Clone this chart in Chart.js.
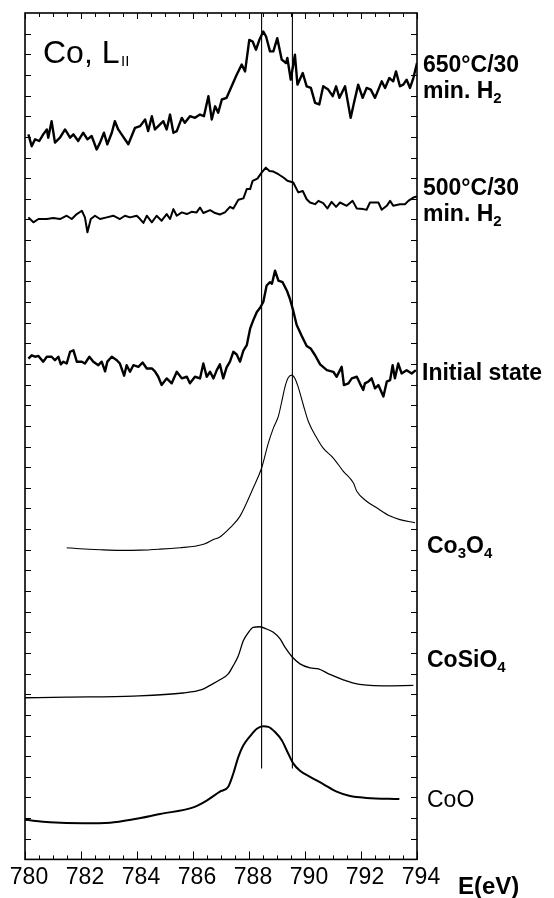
<!DOCTYPE html>
<html><head><meta charset="utf-8">
<script src="https://cdn.jsdelivr.net/npm/chart.js@4/dist/chart.umd.min.js"></script>
<style>html,body{margin:0;padding:0;background:#fff;}canvas{display:block;}</style>
</head><body>
<canvas id="c" width="554" height="898"></canvas>
<script>
// ---------- DATA (energy in eV, intensity in arbitrary offset units) ----------
const xTickLabels = ['780','782','784','786','788','790','792','794'];

const e650 = [780.12,780.24,780.36,780.51,780.65,780.78,780.83,780.95,781.07,781.25,
781.43,781.61,781.73,781.90,782.08,782.23,782.38,782.56,782.68,782.82,
782.94,783.10,783.21,783.33,783.45,783.69,783.81,783.93,784.11,784.29,
784.40,784.53,784.64,784.76,784.94,785.06,785.18,785.30,785.42,785.60,
785.71,785.89,786.07,786.25,786.39,786.55,786.67,786.79,786.90,787.03,
787.20,787.38,787.56,787.74,787.86,788.01,788.13,788.25,788.37,788.51,
788.61,788.75,788.87,789.01,789.17,789.32,789.37,789.49,789.64,789.73,
789.92,790.06,790.21,790.36,790.51,790.65,790.83,790.99,791.11,791.23,
791.43,791.63,791.75,791.90,792.06,792.20,792.35,792.50,792.74,792.86,
793.01,793.15,793.25,793.39,793.51,793.63,793.75,793.87,794.0];
const i650 = [35.12,34.55,34.88,34.80,35.12,35.36,34.96,35.76,34.72,34.96,
35.36,34.96,35.12,34.80,35.20,34.88,35.04,34.39,34.72,35.20,
34.64,35.20,35.76,35.36,35.12,34.64,35.04,35.44,35.52,35.84,
35.28,36.00,35.36,35.52,35.76,35.36,36.08,35.20,35.28,35.92,
35.68,36.00,35.92,36.08,36.00,36.97,35.84,36.48,36.17,36.81,
36.89,37.45,38.01,38.50,38.17,39.70,39.62,39.22,39.70,40.10,
39.86,39.14,39.14,39.78,38.74,38.58,38.82,37.77,38.98,37.53,
38.09,37.45,37.37,36.65,36.57,37.45,37.29,36.97,37.45,36.89,
37.45,35.92,36.65,37.53,36.89,37.37,37.29,36.89,37.69,37.37,
37.85,37.69,38.17,37.45,37.53,37.77,37.37,37.85,38.58];

const e500 = [780.12,780.30,780.48,780.78,781.01,781.25,781.49,781.67,781.85,782.03,
782.14,782.23,782.35,782.50,782.68,782.92,783.15,783.39,783.57,783.75,
783.99,784.11,784.23,784.35,784.53,784.70,784.88,785.06,785.18,785.30,
785.42,785.60,785.78,785.95,786.13,786.25,786.37,786.61,786.79,786.96,
787.14,787.32,787.44,787.62,787.80,787.92,788.04,788.13,788.30,788.45,
788.60,788.73,788.87,789.05,789.23,789.37,789.58,789.76,789.92,790.06,
790.18,790.36,790.48,790.65,790.80,790.95,791.11,791.25,791.49,791.70,
791.85,792.08,792.20,792.32,792.62,792.74,792.92,793.04,793.15,793.39,
793.57,793.69,793.87,794.0];
const i500 = [31.10,30.86,31.02,31.02,31.07,31.02,31.18,31.02,31.26,31.42,
31.10,30.38,31.02,31.18,31.02,31.10,31.18,31.02,31.18,31.10,
31.18,31.02,30.83,31.18,30.86,31.18,30.94,31.26,31.02,31.50,
31.18,31.34,31.26,31.37,31.34,31.58,31.31,31.45,31.31,31.24,
31.34,31.61,31.53,31.95,32.02,32.47,32.47,32.87,32.98,33.27,
33.51,33.35,33.32,33.19,33.03,32.87,32.79,32.31,32.38,31.98,
31.82,31.74,31.90,31.79,31.53,31.85,31.61,31.82,31.66,31.90,
31.53,31.50,31.47,31.82,31.82,31.47,31.66,31.90,31.66,31.74,
31.74,31.90,32.06,32.11];

const eInit = [780.12,780.24,780.36,780.48,780.65,780.78,780.95,781.07,781.19,781.28,
781.37,781.49,781.61,781.73,781.85,782.03,782.14,782.30,782.44,782.62,
782.74,782.86,782.94,783.10,783.28,783.39,783.54,783.63,783.75,783.87,
784.05,784.20,784.35,784.53,784.64,784.76,784.88,785.06,785.24,785.42,
785.60,785.78,785.89,786.07,786.25,786.37,786.49,786.61,786.73,786.85,
786.96,787.08,787.20,787.32,787.44,787.56,787.68,787.80,787.92,788.04,
788.15,788.28,788.39,788.51,788.63,788.75,788.82,788.93,789.05,789.20,
789.35,789.46,789.58,789.70,789.88,790.06,790.20,790.36,790.54,790.78,
791.01,791.13,791.31,791.39,791.55,791.67,791.85,791.96,792.08,792.14,
792.26,792.38,792.50,792.62,792.80,792.92,793.04,793.13,793.21,793.33,
793.45,793.63,793.81,793.96];
const iInit = [24.26,24.42,24.35,24.39,24.11,24.35,24.35,24.18,24.35,23.98,
24.11,24.02,24.59,24.66,24.11,24.11,24.02,24.35,24.11,23.94,
24.11,23.64,24.11,24.35,24.18,24.02,23.43,23.94,23.62,23.94,
23.86,24.07,23.78,23.78,23.64,23.38,22.98,23.30,23.06,23.62,
23.30,23.38,23.06,23.38,23.30,24.02,23.38,23.62,23.30,23.70,
23.98,23.30,23.83,24.11,24.59,24.46,24.11,24.65,24.91,25.71,
26.11,26.52,26.71,27.00,27.80,27.96,27.88,28.52,28.04,27.96,
27.56,27.16,26.58,25.90,25.37,24.87,24.75,24.42,23.98,23.70,
23.62,23.38,23.86,22.98,23.06,23.30,23.38,23.06,22.74,23.06,
23.14,23.30,22.82,22.98,22.42,23.14,23.22,23.94,23.30,24.02,
23.54,23.70,23.54,23.70];

const eCo3O4 = [781.49,781.96,782.68,783.39,784.11,784.82,785.54,786.07,786.43,786.71,
786.96,787.32,787.68,788.15,788.45,788.68,788.87,789.05,789.18,789.29,
789.40,789.53,789.64,789.75,789.94,790.12,790.42,790.65,791.01,791.37,
791.73,791.85,792.20,792.56,793.04,793.39,793.93];
const iCo3O4 = [15.10,15.05,15.00,14.97,14.98,15.03,15.10,15.17,15.29,15.48,
15.62,16.06,16.63,17.99,18.96,20.12,20.89,21.47,22.24,22.91,
23.33,23.46,23.30,22.91,22.01,21.21,20.41,19.92,19.44,18.80,
18.23,17.83,17.35,17.03,16.63,16.46,16.31];

const eCoSiO4 = [780.00,781.49,783.87,785.65,786.31,786.61,786.96,787.26,787.44,787.62,
787.80,787.98,788.15,788.39,788.63,788.87,789.11,789.29,789.53,789.82,
790.18,790.48,790.89,791.37,791.73,792.20,792.80,793.87];
const iCoSiO4 = [7.83,7.86,7.91,8.06,8.22,8.43,8.70,8.99,9.39,9.87,
10.60,11.00,11.24,11.27,11.16,11.00,10.68,10.27,9.83,9.47,
9.28,9.23,8.96,8.70,8.54,8.44,8.41,8.43];

const eCoO = [780.00,780.89,782.08,783.04,783.87,784.82,786.01,786.49,786.96,787.26,
787.44,787.62,787.80,788.04,788.28,788.51,788.69,788.93,789.17,789.40,
789.58,789.82,790.18,790.65,791.13,791.61,792.20,793.37];
const iCoO = [1.92,1.80,1.75,1.78,1.94,2.20,2.52,2.85,3.28,3.52,
4.16,4.97,5.53,5.97,6.33,6.45,6.42,6.17,5.77,5.13,
4.65,4.29,4.00,3.65,3.28,3.07,2.98,2.93];

const refLineEnergies = [788.45, 789.55];
const refLineSpan = [4.4, 41];

const seriesLabels = ['650°C/30 min. H₂', '500°C/30 min. H₂', 'Initial state', 'Co₃O₄', 'CoSiO₄', 'CoO'];

// ---------- CHART ----------
const FONT = '"Liberation Sans", Arial, Helvetica, sans-serif';
const zip = (xs, ys) => xs.slice(0, Math.min(xs.length, ys.length)).map((x, i) => ({x: x, y: ys[i]}));
const line = (label, data, w, smooth) => ({label, data, borderColor: '#000', backgroundColor: '#000',
  borderWidth: w, pointRadius: 0, fill: false, borderJoinStyle: 'round',
  tension: smooth ? 0.4 : 0, cubicInterpolationMode: smooth ? 'monotone' : 'default'});

const datasets = [
  line(seriesLabels[0], zip(e650, i650), 2.4, false),
  line(seriesLabels[1], zip(e500, i500), 2.0, false),
  line(seriesLabels[2], zip(eInit, iInit), 2.4, false),
  line(seriesLabels[3], zip(eCo3O4, iCo3O4), 1.1, true),
  line(seriesLabels[4], zip(eCoSiO4, iCoSiO4), 1.3, true),
  line(seriesLabels[5], zip(eCoO, iCoO), 2.0, true),
];
refLineEnergies.forEach((e, k) => datasets.push(line('ref' + k, [{x: e, y: refLineSpan[0]}, {x: e, y: refLineSpan[1]}], 1.1, false)));

function rich(ctx, x, y, parts, size, bold) {
  let cx = x;
  parts.forEach(p => {
    const sub = p[1];
    const s = sub ? Math.round(size * 0.66) : size;
    ctx.font = (bold ? 'bold ' : '') + s + 'px ' + FONT;
    ctx.fillText(p[0], cx, sub ? y + size * 0.22 : y);
    cx += ctx.measureText(p[0]).width;
  });
}

const framePlugin = {
  id: 'frame',
  afterDraw(chart) {
    const {ctx, chartArea: a, scales: {x, y}} = chart;
    ctx.save();
    ctx.strokeStyle = '#000';
    ctx.lineWidth = 1.6;
    ctx.strokeRect(a.left, a.top, a.right - a.left, a.bottom - a.top);
    ctx.lineWidth = 1;
    ctx.beginPath();
    for (let k = 0; k <= 28; k++) {
      const v = 780 + k * 0.5;
      const px = Math.round(x.getPixelForValue(v)) + 0.5;
      const major = k % 4 === 0;
      ctx.moveTo(px, a.bottom); ctx.lineTo(px, a.bottom - (major ? 8 : 4));
      ctx.moveTo(px, a.top); ctx.lineTo(px, a.top + (major ? 6 : 4));
    }
    for (let v = 1; v < 41; v++) {
      const py = Math.round(y.getPixelForValue(v)) + 0.5;
      ctx.moveTo(a.left, py); ctx.lineTo(a.left + 6, py);
      ctx.moveTo(a.right, py); ctx.lineTo(a.right - 6, py);
    }
    ctx.stroke();

    ctx.fillStyle = '#000';
    ctx.textBaseline = 'alphabetic';
    ctx.textAlign = 'left';
    rich(ctx, 43, 63, [['Co, L', 0]], 32, false);
    ctx.font = '15px ' + FONT;
    ctx.fillText('II', 121, 66);
    const lx = a.right + 6;
    rich(ctx, lx, 72, [['650°C/30', 0]], 23, true);
    rich(ctx, lx, 98, [['min. H', 0], ['2', 1]], 23, true);
    rich(ctx, lx, 195, [['500°C/30', 0]], 23, true);
    rich(ctx, lx, 221, [['min. H', 0], ['2', 1]], 23, true);
    rich(ctx, lx - 1, 380, [['Initial state', 0]], 23, true);
    rich(ctx, lx + 4, 553, [['Co', 0], ['3', 1], ['O', 0], ['4', 1]], 23, true);
    rich(ctx, lx + 4, 667, [['CoSiO', 0], ['4', 1]], 23, true);
    rich(ctx, lx + 4, 807, [['CoO', 0]], 23, false);
    rich(ctx, 458, 894, [['E(eV)', 0]], 24, true);
    ctx.restore();
  }
};

new Chart(document.getElementById('c'), {
  type: 'line',
  data: {datasets},
  options: {
    responsive: false,
    animation: false,
    layout: {padding: {left: 25, right: 137, top: 13, bottom: 3}},
    plugins: {legend: {display: false}, tooltip: {enabled: false}},
    scales: {
      x: {
        type: 'linear', min: 780, max: 794, position: 'bottom',
        grid: {display: false, drawTicks: false},
        border: {display: false},
        ticks: {
          stepSize: 2, color: '#000', padding: 4, labelOffset: 4, maxRotation: 0, autoSkip: false,
          font: {family: FONT, size: 23},
          callback: (v) => xTickLabels[Math.round((v - 780) / 2)]
        }
      },
      y: {type: 'linear', display: false, min: 0, max: 41}
    }
  },
  plugins: [framePlugin]
});
</script>
</body></html>
